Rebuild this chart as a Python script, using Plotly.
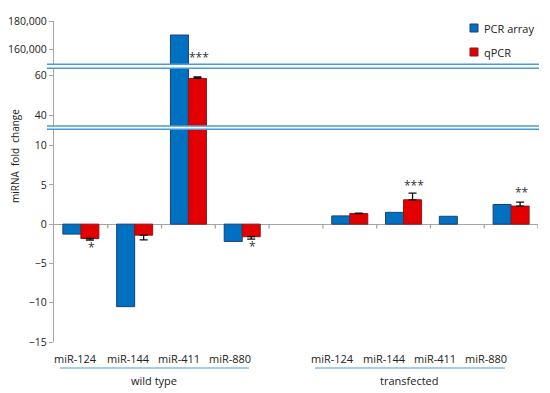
import plotly.graph_objects as go

# ---------------- data ----------------
slots = ["wt miR-124", "wt miR-144", "wt miR-411", "wt miR-880", "gap",
         "tf miR-124", "tf miR-144", "tf miR-411", "tf miR-880"]
pcr_array = [-1.27, -10.5, 170000, -2.2, None, 1.05, 1.5, 1.0, 2.5]
qpcr = [-1.83, -1.4, 58.3, -1.6, None, 1.35, 3.1, None, 2.3]
qpcr_err = [0.2, 0.6, 0.7, 0.3, 0, 0.05, 0.85, 0, 0.5]
signif = ["*", "", "***", "*", "", "", "***", "", "**"]
signif_y = [-2.95, None, 154000, -2.85, None, None, 4.9, None, 4.0]
tick_labels = ["miR-124", "miR-144", "miR-411", "miR-880"]
groups = ["wild type", "transfected"]
series_names = ["PCR array", "qPCR"]

# ---------------- styling / layout constants ----------------
W, H = 550, 393
OFF = 8                       # page body margin
RL, RR, RT, RB = 54, 538, 21, 342   # plot box in screenshot pixels
ML, MT = RL - OFF, RT - OFF
MR, MB = W - (RR - OFF), H - (RB - OFF)
def fx(x): return (x - RL) / (RR - RL)
def fy(y): return (RB - y) / (RB - RT)

BLUE, BLUE_LINE = "#0070C0", "#1F3F7A"
RED, RED_LINE = "#E30000", "#8A1A1A"
BREAK = "#4A9AD6"
AXIS = "#A6A6A6"
TXT = "#222222"
FONT = "Open Sans"

dom_bottom = [0, fy(129.3)]
dom_mid = [fy(126), fy(68.3)]
dom_top = [fy(64.3), 1]

err_plus = [e if (v is not None and v > 0) else 0 for v, e in zip(qpcr, qpcr_err)]
err_minus = [e if (v is not None and v < 0) else 0 for v, e in zip(qpcr, qpcr_err)]

fig = go.Figure()
for i, ax in enumerate(["y", "y2", "y3"]):
    fig.add_trace(go.Bar(x=slots, y=pcr_array, yaxis=ax, name=series_names[0],
                         marker=dict(color=BLUE, line=dict(color=BLUE_LINE, width=1)),
                         showlegend=False))
    fig.add_trace(go.Bar(x=slots, y=qpcr, yaxis=ax, name=series_names[1],
                         marker=dict(color=RED, line=dict(color=RED_LINE, width=1)),
                         error_y=dict(type="data", symmetric=False, array=err_plus,
                                      arrayminus=err_minus, color="#111111",
                                      thickness=1.3, width=4),
                         showlegend=False))

shapes = []
# category-axis tick marks at slot boundaries
for k in range(1, len(slots) + 1):
    shapes.append(dict(type="line", xref="x", yref="y", x0=k - 0.5, x1=k - 0.5,
                       y0=0, y1=-0.55, line=dict(color=AXIS, width=1.3)))
# broken-axis bands
for lo, hi in [(dom_bottom[1], dom_mid[0]), (dom_mid[1], dom_top[0])]:
    shapes.append(dict(type="rect", xref="paper", yref="paper", x0=fx(47), x1=fx(539),
                       y0=lo, y1=hi, fillcolor="white", line=dict(width=0), layer="above"))
    for yy in (lo, hi):
        shapes.append(dict(type="line", xref="paper", yref="paper", x0=fx(47), x1=fx(539),
                           y0=yy, y1=yy, line=dict(color=BREAK, width=1.6), layer="above"))
# group underlines
for x0, x1 in [(60, 249), (315, 505)]:
    shapes.append(dict(type="line", xref="paper", yref="paper", x0=fx(x0), x1=fx(x1),
                       y0=fy(368), y1=fy(368), line=dict(color=BREAK, width=1)))

annotations = []
def txt(text, x, y, size=11, color=TXT, xanchor="center", **kw):
    annotations.append(dict(text=text, xref="paper", yref="paper", x=fx(x), y=fy(y),
                            xanchor=xanchor, yanchor="middle", showarrow=False,
                            font=dict(family=FONT, size=size, color=color), **kw))

label_centers = [[75, 128, 179, 230], [332, 384, 435, 486]]
group_centers = [154, 409]
for g, centers in enumerate(label_centers):
    for lbl, cx in zip(tick_labels, centers):
        txt(lbl, cx, 358)
    txt(groups[g], group_centers[g], 381)
for i, (s, sy) in enumerate(zip(signif, signif_y)):
    if not s:
        continue
    yref = "y3" if sy > 1000 else "y"
    annotations.append(dict(text=s, xref="x", yref=yref, x=i + 0.2, y=sy, showarrow=False,
                            xanchor="center", yanchor="middle",
                            font=dict(family=FONT, size=12, color="#333333")))
txt("miRNA  fold  change", 15, 156, size=10, textangle=-90)

# legend (drawn manually to match the original placement)
for name, col, lcol, cy in [(series_names[0], BLUE, BLUE_LINE, 28), (series_names[1], RED, RED_LINE, 52)]:
    shapes.append(dict(type="rect", xref="paper", yref="paper", x0=fx(470), x1=fx(478),
                       y0=fy(cy + 4), y1=fy(cy - 4), fillcolor=col,
                       line=dict(color=lcol, width=1)))
    txt(name, 482, cy, xanchor="left")

yax_common = dict(showline=True, linecolor=AXIS, linewidth=1.3, ticks="outside",
                  ticklen=4, tickcolor=AXIS, showgrid=False, automargin=False,
                  tickfont=dict(family=FONT, size=10.5, color=TXT), anchor="x")

fig.update_layout(
    width=W, height=H, margin=dict(l=ML, r=MR, t=MT, b=MB, autoexpand=False),
    plot_bgcolor="white", paper_bgcolor="white",
    barmode="group", bargap=0.33, bargroupgap=0, showlegend=False,
    xaxis=dict(type="category", categoryorder="array", categoryarray=slots,
               range=[-0.5, len(slots) - 0.5], showticklabels=False, ticks="",
               showline=False, showgrid=False, zeroline=False, anchor="y", automargin=False),
    yaxis=dict(domain=dom_bottom, range=[-15, 12.07], tickvals=[-15, -10, -5, 0, 5, 10],
               zeroline=True, zerolinecolor=AXIS, zerolinewidth=1.3, **yax_common),
    yaxis2=dict(domain=dom_mid, range=[34.5, 63.35], tickvals=[40, 60],
                zeroline=False, **yax_common),
    yaxis3=dict(domain=dom_top, range=[149070, 180000], tickvals=[160000, 180000],
                tickformat=",d", zeroline=False, **yax_common),
    shapes=shapes, annotations=annotations,
)

fig.write_html("out.html")
